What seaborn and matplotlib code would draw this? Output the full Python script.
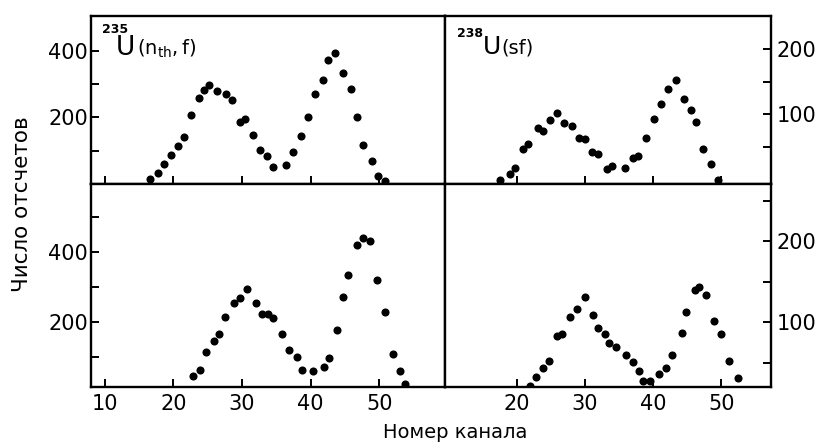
import matplotlib
matplotlib.use("Agg")
import matplotlib.pyplot as plt
from matplotlib.ticker import FixedLocator
import numpy as np
import pandas as pd
import seaborn as sns

# ---- data ----
tl_ch = [16.6, 17.8, 18.6, 19.6, 20.7, 21.6, 22.6, 23.8, 24.5, 25.2, 26.3, 27.7, 28.5, 29.7, 30.5,
         31.6, 32.6, 33.7, 34.6, 36.4, 37.4, 38.6, 39.7, 40.7, 41.8, 42.6, 43.5, 44.8, 45.9, 46.8,
         47.7, 48.9, 49.8, 50.9]
tl_cnt = [15, 33, 60, 87, 114, 140, 206, 259, 284, 299, 279, 271, 252, 187, 196,
          147, 102, 83, 52, 58, 96, 144, 202, 270, 313, 373, 393, 333, 287, 202,
          116, 70, 25, 10]

tr_ch = [17.5, 19.0, 19.8, 21.0, 21.7, 23.2, 23.9, 24.9, 25.9, 26.9, 28.1, 29.2, 30.1, 31.1, 31.9,
         33.2, 34.0, 35.9, 37.0, 37.8, 38.9, 40.1, 41.2, 42.2, 43.4, 44.6, 45.5, 46.3, 47.3, 48.5, 49.5]
tr_cnt = [0, 9, 18, 48, 55, 80, 75, 91, 102, 87, 82, 64, 62, 42, 39,
          17, 21, 18, 33, 37, 64, 93, 116, 138, 153, 124, 107, 89, 48, 25, 0]

bl_ch = [22.9, 23.9, 24.8, 25.9, 26.7, 27.6, 28.8, 29.7, 30.8, 32.1, 32.9, 33.8, 34.6, 35.9, 36.9,
         38.0, 38.8, 40.3, 42.0, 42.7, 43.9, 44.7, 45.5, 46.8, 47.6, 48.7, 49.7, 50.9, 52.0, 53.0, 53.8]
bl_cnt = [46, 63, 115, 146, 166, 215, 255, 268, 294, 254, 222, 222, 212, 166, 119,
          99, 63, 60, 70, 98, 177, 270, 334, 419, 439, 431, 320, 229, 109, 60, 23]

br_ch = [21.9, 22.8, 23.9, 24.8, 25.9, 26.7, 27.9, 28.8, 30.1, 31.2, 32.0, 32.9, 33.5, 34.5, 36.1,
         37.1, 37.9, 38.6, 39.6, 40.9, 41.9, 42.8, 44.2, 44.9, 46.1, 46.7, 47.8, 48.9, 49.9, 51.2, 52.4]
br_cnt = [21, 32, 43, 52, 83, 85, 107, 116, 131, 109, 93, 86, 74, 70, 59,
          51, 40, 28, 27, 36, 44, 59, 87, 113, 140, 144, 134, 102, 85, 52, 31]

left_xticks = [10, 20, 30, 40, 50]
right_xticks = [20, 30, 40, 50]
left_yticks = [200, 400]
right_yticks = [100, 200]

xlabel = "Номер канала"
ylabel = "Число отсчетов"

sns.set_theme(style="ticks")
plt.rcParams['font.family'] = ['DejaVu Sans']
plt.rcParams['text.color'] = 'black'
plt.rcParams['axes.labelcolor'] = 'black'
plt.rcParams['xtick.color'] = 'black'
plt.rcParams['ytick.color'] = 'black'

W, H = 825, 444
fig = plt.figure(figsize=(W / 100, H / 100), dpi=100)
fig.patch.set_facecolor("white")


def frac(x0, y0, x1, y1):
    return [x0 / W, 1 - y1 / H, (x1 - x0) / W, (y1 - y0) / H]


L, M, R = 91, 445, 771
T, C, B = 16, 184, 387

ax_tl = fig.add_axes(frac(L, T, M, C))
ax_bl = fig.add_axes(frac(L, C, M, B))
ax_tr = fig.add_axes(frac(M, T, R, C))
ax_br = fig.add_axes(frac(M, C, R, B))


def draw(ax, ch, cnt):
    df = pd.DataFrame({"channel": ch, "count": cnt})
    sns.scatterplot(data=df, x="channel", y="count", ax=ax, color="black",
                    s=34, linewidth=0, legend=False, zorder=3)
    ax.set_xlabel("")
    ax.set_ylabel("")


def style(ax, xlim, ylim, xmaj, ymaj, ymin, xlabels, yside):
    ax.set_xlim(xlim)
    ax.set_ylim(ylim)
    for s in ax.spines.values():
        s.set_visible(True)
        s.set_linewidth(1.7)
        s.set_color("black")
    ax.set_facecolor("white")
    ax.xaxis.set_major_locator(FixedLocator(xmaj))
    ax.yaxis.set_major_locator(FixedLocator(ymaj))
    ax.yaxis.set_minor_locator(FixedLocator(ymin))
    ax.tick_params(axis="both", which="both", direction="in", length=6, width=1.4,
                   colors="black", labelcolor="black", labelsize=15)
    ax.tick_params(axis="x", which="both", bottom=True, top=False,
                   labelbottom=xlabels, labeltop=False, pad=5)
    if yside == "left":
        ax.tick_params(axis="y", which="both", left=True, right=False,
                       labelleft=True, labelright=False, pad=2)
    else:
        ax.tick_params(axis="y", which="both", left=False, right=True,
                       labelleft=False, labelright=True, pad=4)


draw(ax_tl, tl_ch, tl_cnt)
draw(ax_bl, bl_ch, bl_cnt)
draw(ax_tr, tr_ch, tr_cnt)
draw(ax_br, br_ch, br_cnt)

style(ax_tl, (8.0, 59.6), (0, 505), left_xticks, left_yticks, [100, 300], False, "left")
style(ax_bl, (8.0, 59.6), (14, 594), left_xticks, left_yticks, [100, 300, 500], True, "left")
style(ax_tr, (9.5, 57.3), (-6, 250), right_xticks, right_yticks, [50, 150], False, "right")
style(ax_br, (9.5, 57.3), (20, 271), right_xticks, right_yticks, [50, 150, 250], True, "right")

# panel labels
fig.text(102 / W, 1 - 33 / H, "235", fontsize=9, fontweight="bold", va="baseline", color="black")
fig.text(116 / W, 1 - 55 / H, "U", fontsize=19, va="baseline", color="black")
fig.text(137 / W, 1 - 55 / H, r"$\mathregular{(n_{th},f)}$", fontsize=14, va="baseline", color="black")

fig.text(457 / W, 1 - 37 / H, "238", fontsize=9, fontweight="bold", va="baseline", color="black")
fig.text(483 / W, 1 - 54 / H, "U", fontsize=18, va="baseline", color="black")
fig.text(501 / W, 1 - 54 / H, "(sf)", fontsize=14, va="baseline", color="black")

# axis labels
fig.text(455 / W, 1 - 432 / H, xlabel, fontsize=14, ha="center", va="center", color="black")
fig.text(22 / W, 1 - 204 / H, ylabel, fontsize=15.5, ha="center", va="center", rotation=90,
         color="black")

fig.savefig("out.png", dpi=100, facecolor="white")
